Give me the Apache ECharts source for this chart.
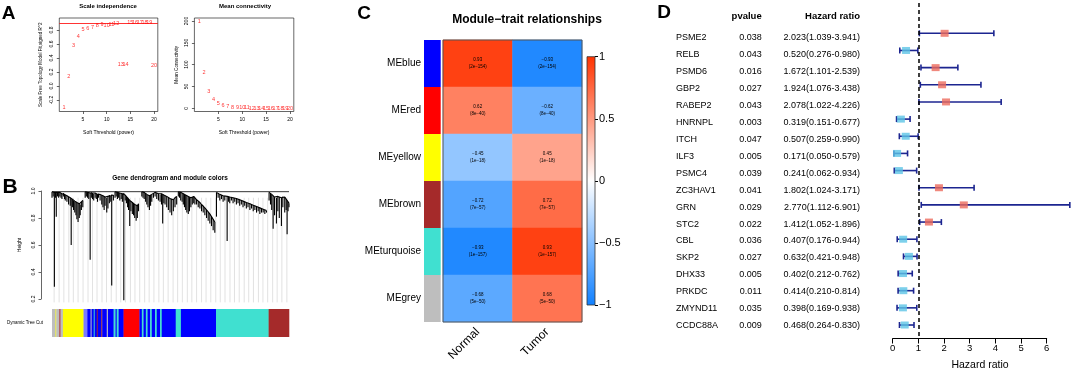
<!DOCTYPE html>
<html>
<head>
<meta charset="utf-8">
</head>
<body style="margin:0">
<div id="container" style="width:1072px;height:376px"></div>
<script src="https://cdn.jsdelivr.net/npm/echarts@6/dist/echarts.min.js"></script>
<script>
var FONT = 'Liberation Sans, Arial, sans-serif';

// ---- A: soft threshold ----
var powers = [1, 2, 3, 4, 5, 6, 7, 8, 9, 10, 11, 12, 13, 14, 15, 16, 17, 18, 19, 20];
var sftFit = [-0.31, 0.14, 0.58, 0.71, 0.80, 0.82, 0.84, 0.87, 0.88, 0.87, 0.88, 0.89, 0.31, 0.31, 0.90, 0.90, 0.91, 0.91, 0.90, 0.29];
var meanK = [200, 81, 39, 20, 11, 6, 3.5, 2, 1.2, 1, 0.8, 0.7, 0.6, 0.5, 0.4, 0.4, 0.3, 0.3, 0.3, 0.2];
var cutHeight = 0.9;
var sftTicks = [-0.2, 0, 0.2, 0.4, 0.6, 0.8];
var kTicks = [0, 50, 100, 150, 200];
var powerTicks = [5, 10, 15, 20];

// ---- B: dendrogram (x in % of leaf order, [x, mergeHeight, leafEnd]) ----
var leafClusters = [
  [[0.0,0.995,0.95],[0.5,0.99,0.96],[1.0,0.99,0.29],[1.5,0.99,0.95],[1.8,0.985,0.81],[2.3,0.99,0.96],[2.8,0.985,0.95],[3.3,0.99,0.96],[3.8,0.985,0.95],[4.2,0.98,0.94],[4.8,0.985,0.96],[5.3,0.975,0.94],[5.6,0.97,0.93],[6.3,0.965,0.92],[7.0,0.955,0.90],[7.7,0.95,0.89],[8.1,0.945,0.60],[8.6,0.94,0.88],[9.1,0.93,0.86],[9.6,0.925,0.84],[10.1,0.92,0.82],[10.5,0.915,0.79],[11.0,0.91,0.77],[11.5,0.905,0.80],[11.9,0.90,0.82],[12.4,0.92,0.86],[13.0,0.93,0.88]],
  [[14.0,0.995,0.95],[14.5,0.99,0.96],[15.0,0.99,0.95],[15.5,0.99,0.94],[16.1,0.985,0.49],[16.6,0.99,0.95],[17.1,0.985,0.94],[17.6,0.98,0.93],[18.2,0.985,0.95],[18.7,0.98,0.94],[19.2,0.975,0.92],[19.6,0.98,0.95],[20.3,0.975,0.93],[21.0,0.97,0.90],[21.5,0.965,0.88],[22.0,0.96,0.86],[22.4,0.955,0.89],[23.1,0.95,0.84],[23.6,0.96,0.87],[24.2,0.97,0.91],[24.8,0.965,0.92],[25.2,0.975,0.30],[25.9,0.97,0.93]],
  [[26.6,0.995,0.95],[27.1,0.99,0.96],[27.6,0.99,0.94],[28.1,0.985,0.95],[28.6,0.985,0.93],[29.2,0.98,0.94],[29.7,0.98,0.92],[30.3,0.985,0.19],[30.9,0.97,0.93],[31.4,0.96,0.91],[31.9,0.95,0.88],[32.3,0.94,0.86],[32.8,0.93,0.74],[33.3,0.925,0.85],[33.9,0.915,0.83],[34.4,0.905,0.82],[34.9,0.90,0.80],[35.5,0.895,0.78],[36.0,0.89,0.80],[36.5,0.905,0.85]],
  [[37.9,0.995,0.96],[38.4,0.99,0.95],[38.9,0.99,0.94],[39.5,0.985,0.92],[40.0,0.975,0.90],[40.5,0.97,0.88],[41.1,0.965,0.86],[41.6,0.97,0.89],[42.1,0.975,0.92],[42.8,0.985,0.95],[43.5,0.99,0.96],[44.2,0.985,0.94],[44.9,0.98,0.93],[45.6,0.975,0.92],[46.2,0.98,0.90],[46.7,0.975,0.76],[47.2,0.97,0.91],[47.7,0.965,0.90],[48.4,0.96,0.88],[49.1,0.955,0.86],[49.8,0.945,0.84],[50.5,0.94,0.82],[51.2,0.935,0.85],[51.9,0.95,0.88],[52.6,0.96,0.90]],
  [[53.3,0.995,0.96],[53.8,0.99,0.95],[54.3,0.99,0.93],[54.9,0.985,0.92],[55.4,0.98,0.90],[55.9,0.975,0.88],[56.4,0.97,0.86],[56.9,0.965,0.84],[57.5,0.96,0.83],[58.0,0.955,0.85],[58.6,0.95,0.88],[59.2,0.955,0.90],[59.8,0.96,0.91],[60.3,0.95,0.90],[61.0,0.935,0.90],[61.7,0.925,0.88],[62.4,0.915,0.87],[63.1,0.90,0.85],[63.8,0.89,0.84],[64.5,0.875,0.82],[65.2,0.86,0.80],[65.9,0.845,0.78],[66.6,0.83,0.76],[67.3,0.81,0.74],[68.0,0.79,0.71],[68.7,0.77,0.69]],
  [[69.4,0.99,0.81],[70.1,0.985,0.95],[70.8,0.975,0.93],[71.5,0.97,0.94],[72.2,0.965,0.92],[72.9,0.965,0.93],[73.9,0.96,0.63],[74.5,0.96,0.92],[75.0,0.955,0.91],[75.7,0.955,0.93],[76.4,0.95,0.91],[77.1,0.948,0.92],[77.8,0.945,0.90],[78.5,0.94,0.91],[79.2,0.935,0.89],[79.9,0.93,0.90],[80.6,0.925,0.88],[81.3,0.92,0.89],[82.0,0.915,0.87],[82.7,0.91,0.88],[83.5,0.905,0.86],[84.2,0.90,0.87],[84.9,0.895,0.85],[85.6,0.89,0.86],[86.3,0.885,0.84],[87.0,0.88,0.85],[87.7,0.875,0.83],[88.4,0.87,0.84],[89.1,0.865,0.84],[89.8,0.86,0.83],[90.5,0.855,0.84]],
  [[91.6,0.99,0.93],[92.2,0.985,0.90],[92.7,0.975,0.86],[93.3,0.965,0.72],[93.9,0.955,0.82],[94.7,0.95,0.76],[95.3,0.96,0.85],[95.9,0.955,0.80],[96.8,0.95,0.74],[97.4,0.96,0.88],[98.2,0.955,0.84],[98.8,0.94,0.86],[99.2,0.93,0.68],[99.6,0.92,0.85],[100,0.91,0.88]]
];
var dendroTopX = [0, 100];
var dendroTopY = [0.995, 0.995];
var hangX = [0.9, 3.0, 5.0, 7.1, 9.0, 11.0, 13.1, 15.2, 17.1, 19.0, 21.1, 23.0, 25.0, 27.1, 29.0, 31.0, 33.1, 35.0, 37.0, 39.1, 41.0, 43.0, 45.1, 47.0, 49.0, 51.1, 53.0, 55.0, 57.1, 59.0, 61.0, 63.1, 65.0, 67.0, 69.1, 71.0, 73.0, 75.1, 77.0, 79.0, 81.1, 83.0, 85.0, 87.1, 89.0, 91.0, 93.1, 95.0, 97.0, 99.1];
var hangTop = 0.95, hangBottom = 0.175;

// module colour bar: start, end, colour name
var segStart = [0, 1.5, 1.8, 3.1, 3.6, 4.6, 13.3, 14.9, 16.3, 16.7, 17.6, 18.0, 18.9, 19.3, 20.8, 21.2, 23.1, 23.6, 26.0, 26.8, 27.3, 28.1, 30.2, 36.9, 37.9, 38.6, 39.6, 40.3, 41.4, 42.1, 43.5, 44.2, 45.6, 46.3, 52.2, 54.4, 69.2, 91.4];
var segEnd = [1.5, 1.8, 3.1, 3.6, 4.6, 13.3, 14.9, 16.3, 16.7, 17.6, 18.0, 18.9, 19.3, 20.8, 21.2, 23.1, 23.6, 26.0, 26.8, 27.3, 28.1, 30.2, 36.9, 37.9, 38.6, 39.6, 40.3, 41.4, 42.1, 43.5, 44.2, 45.6, 46.3, 52.2, 54.4, 69.2, 91.4, 100];
var segColor = ['grey', 'yellow', 'grey', 'brown', 'grey', 'yellow', 'lavender', 'blue', 'grey', 'blue', 'turquoise', 'blue', 'brown', 'blue', 'brown', 'blue', 'grey', 'blue', 'turquoise', 'blue', 'turquoise', 'blue', 'red', 'blue', 'turquoise', 'blue', 'turquoise', 'blue', 'turquoise', 'blue', 'turquoise', 'blue', 'turquoise', 'blue', 'turquoise', 'blue', 'turquoise', 'brown'];
var rColors = {grey: '#bebebe', yellow: '#ffff00', brown: '#a52a2a', blue: '#0000ff', turquoise: '#40e0d0', red: '#ff0000', lavender: '#7a7aff'};

// ---- C: module-trait ----
var modules = ['MEblue', 'MEred', 'MEyellow', 'MEbrown', 'MEturquoise', 'MEgrey'];
var moduleColor = ['#0000ff', '#ff0000', '#ffff00', '#a52a2a', '#40e0d0', '#bebebe'];
var traits = ['Normal', 'Tumor'];
var corNormal = [0.93, 0.62, -0.45, -0.72, -0.93, -0.68];
var corTumor = [-0.93, -0.62, 0.45, 0.72, 0.93, 0.68];
var pModule = ['2e-154', '8e-40', '1e-18', '7e-57', '1e-157', '5e-50'];

// ---- D: forest ----
var genes = ['PSME2', 'RELB', 'PSMD6', 'GBP2', 'RABEP2', 'HNRNPL', 'ITCH', 'ILF3', 'PSMC4', 'ZC3HAV1', 'GRN', 'STC2', 'CBL', 'SKP2', 'DHX33', 'PRKDC', 'ZMYND11', 'CCDC88A'];
var pvals = ['0.038', '0.043', '0.016', '0.027', '0.043', '0.003', '0.047', '0.005', '0.039', '0.041', '0.029', '0.022', '0.036', '0.027', '0.005', '0.011', '0.035', '0.009'];
var hr = [2.023, 0.520, 1.672, 1.924, 2.078, 0.319, 0.507, 0.171, 0.241, 1.802, 2.770, 1.412, 0.407, 0.632, 0.402, 0.414, 0.398, 0.468];
var hrLow = [1.039, 0.276, 1.101, 1.076, 1.022, 0.151, 0.259, 0.050, 0.062, 1.024, 1.112, 1.052, 0.176, 0.421, 0.212, 0.210, 0.169, 0.264];
var hrHigh = [3.941, 0.980, 2.539, 3.438, 4.226, 0.677, 0.990, 0.579, 0.934, 3.171, 6.901, 1.896, 0.944, 0.948, 0.762, 0.814, 0.938, 0.830];

var chart = echarts.init(document.getElementById('container'), null, {renderer: 'canvas'});

function minus(v) { return v < 0 ? '\u2212' + Math.abs(v) : String(v); }

function txt(x, y, s, size, weight, align) {
  return {
    type: 'text', x: x, y: y, silent: true,
    style: {
      text: s, fontSize: size, fontWeight: weight || 'normal', fontFamily: FONT, fill: '#000',
      align: align || 'center', textAlign: align || 'center', verticalAlign: 'middle', textVerticalAlign: 'middle'
    }
  };
}

var tiny = {color: '#000', fontSize: 5, fontFamily: FONT};
var thinTick = {length: 2.5, lineStyle: {color: '#000', width: 0.6}};

var grids = [
  {left: 59.3, right: 914.2, top: 18, bottom: 264.5, show: true, borderColor: '#000', borderWidth: 0.6},
  {left: 194.4, right: 778.2, top: 18, bottom: 264.5, show: true, borderColor: '#000', borderWidth: 0.6},
  {left: 52, right: 783, top: 191, bottom: 77},
  {left: 52, right: 783, top: 309, bottom: 39},
  {left: 424, right: 631.3, top: 40, bottom: 54},
  {left: 443, right: 490, top: 40, bottom: 54, show: true, borderColor: '#555', borderWidth: 1, z: 5},
  {left: 587, right: 477, top: 56.7, bottom: 71},
  {left: 676, right: 212, top: 29.2, bottom: 41.8},
  {left: 892.7, right: 25.3, top: 3, bottom: 37.5}
];

var hidden = function (g, mn, mx) {
  return {gridIndex: g, type: 'value', min: mn, max: mx, show: false};
};

var xAxes = [
  {gridIndex: 0, type: 'value', min: 0, max: 20.8, axisLine: {show: false, onZero: false}, splitLine: {show: false},
    axisTick: Object.assign({customValues: powerTicks}, thinTick),
    axisLabel: Object.assign({customValues: powerTicks, margin: 6}, tiny),
    name: 'Soft Threshold (power)', nameLocation: 'middle', nameGap: 19, nameTextStyle: tiny},
  {gridIndex: 1, type: 'value', min: 0, max: 20.8, axisLine: {show: false, onZero: false}, splitLine: {show: false},
    axisTick: Object.assign({customValues: powerTicks}, thinTick),
    axisLabel: Object.assign({customValues: powerTicks, margin: 6}, tiny),
    name: 'Soft Threshold (power)', nameLocation: 'middle', nameGap: 19, nameTextStyle: tiny},
  hidden(2, 0, 100),
  hidden(3, 0, 100),
  hidden(4, 0, 1),
  {gridIndex: 5, type: 'category', data: traits, axisLine: {show: false}, axisTick: {show: false},
    axisLabel: {rotate: 45, fontSize: 12, margin: 8, color: '#000', fontFamily: FONT}},
  hidden(6, 0, 1),
  hidden(7, 0, 1),
  {gridIndex: 8, type: 'value', min: 0, max: 6, interval: 1, splitLine: {show: false},
    axisLine: {onZero: false, lineStyle: {color: '#000', width: 1}},
    axisTick: {length: 5, lineStyle: {color: '#000', width: 1}},
    axisLabel: {fontSize: 9.5, margin: 5, color: '#000', fontFamily: FONT}}
];

var yAxes = [
  {gridIndex: 0, type: 'value', min: -0.364, max: 0.971, axisLine: {show: false, onZero: false}, splitLine: {show: false},
    axisTick: Object.assign({customValues: sftTicks}, thinTick),
    axisLabel: Object.assign({customValues: sftTicks, rotate: 90, margin: 5, formatter: function (v) { return v.toFixed(1); }}, tiny),
    name: 'Scale Free Topology Model Fit,signed R^2', nameLocation: 'middle', nameGap: 16,
    nameTextStyle: {color: '#000', fontSize: 4.5, fontFamily: FONT}},
  {gridIndex: 1, type: 'value', min: -7.3, max: 206.9, axisLine: {show: false, onZero: false}, splitLine: {show: false},
    axisTick: Object.assign({customValues: kTicks}, thinTick),
    axisLabel: Object.assign({customValues: kTicks, rotate: 90, margin: 5}, tiny),
    name: 'Mean Connectivity', nameLocation: 'middle', nameGap: 15,
    nameTextStyle: {color: '#000', fontSize: 4.6, fontFamily: FONT}},
  {gridIndex: 2, type: 'value', min: 0.2, max: 1.0, interval: 0.2, offset: 11, splitLine: {show: false},
    axisLine: {show: true, onZero: false, lineStyle: {color: '#000', width: 0.6}}, axisTick: thinTick,
    axisLabel: Object.assign({rotate: 90, margin: 5, formatter: function (v) { return v.toFixed(1); }}, tiny),
    name: 'Height', nameLocation: 'middle', nameGap: 19, nameTextStyle: tiny},
  {gridIndex: 3, type: 'category', data: ['Dynamic Tree Cut'], axisLine: {show: false}, axisTick: {show: false},
    axisLabel: {color: '#000', fontSize: 4.5, margin: 9, fontFamily: FONT}},
  {gridIndex: 4, type: 'category', data: modules, inverse: true, axisLine: {show: false}, axisTick: {show: false},
    axisLabel: {color: '#000', fontSize: 10, margin: 3, fontFamily: FONT}},
  {gridIndex: 5, type: 'category', data: modules, inverse: true, show: false},
  {gridIndex: 6, type: 'value', min: -1, max: 1, interval: 0.5, position: 'right', splitLine: {show: false},
    axisLine: {show: false, onZero: false}, axisTick: {length: 3, lineStyle: {color: '#000', width: 1}},
    axisLabel: {color: '#000', fontSize: 11, margin: 4, fontFamily: FONT, formatter: minus}},
  {gridIndex: 7, type: 'category', data: genes, inverse: true, position: 'left', axisLine: {show: false}, axisTick: {show: false},
    axisLabel: {align: 'left', margin: 0, color: '#000', fontSize: 9, fontFamily: FONT}},
  {gridIndex: 7, type: 'category', data: genes, inverse: true, position: 'right', offset: -98.3, axisLine: {show: false}, axisTick: {show: false},
    axisLabel: {align: 'right', margin: 0, color: '#000', fontSize: 9, fontFamily: FONT,
      formatter: function (v, i) { return pvals[i]; }}},
  {gridIndex: 7, type: 'category', data: genes, inverse: true, position: 'right', offset: 0, axisLine: {show: false}, axisTick: {show: false},
    axisLabel: {align: 'right', margin: 0, color: '#000', fontSize: 9, fontFamily: FONT,
      formatter: function (v, i) { return hr[i].toFixed(3) + '(' + hrLow[i].toFixed(3) + '-' + hrHigh[i].toFixed(3) + ')'; }}},
  {gridIndex: 8, type: 'value', min: -1.766, max: 17.786, inverse: true, show: false}
];

var series = [];

function powerLabels(xi, vals, extra) {
  return Object.assign({
    type: 'scatter', xAxisIndex: xi, yAxisIndex: xi, symbolSize: 1,
    itemStyle: {color: 'rgba(0,0,0,0)'},
    data: powers.map(function (p, i) { return [p, vals[i]]; }),
    label: {show: true, position: 'inside', color: '#ff0000', fontSize: 5.5, fontFamily: FONT,
      formatter: function (p) { return p.data[0]; }}
  }, extra || {});
}

series.push(powerLabels(0, sftFit, {
  markLine: {silent: true, symbol: ['none', 'none'], label: {show: false},
    lineStyle: {color: '#ff0000', width: 0.8, type: 'solid'}, data: [{yAxis: cutHeight}]}
}));
series.push(powerLabels(1, meanK));

// hanging leaf lines (grey)
series.push({
  type: 'custom', xAxisIndex: 2, yAxisIndex: 2, clip: false, z: 1,
  data: hangX.map(function (x) { return [x, hangTop, hangBottom]; }),
  renderItem: function (params, api) {
    var a = api.coord([api.value(0), api.value(1)]);
    var b = api.coord([api.value(0), api.value(2)]);
    return {type: 'line', shape: {x1: a[0], y1: a[1], x2: b[0], y2: b[1]}, style: {stroke: '#cfcfcf', lineWidth: 0.6}};
  }
});
// dendrogram branches
var allLeaves = [].concat.apply([], leafClusters);
series.push({
  type: 'custom', xAxisIndex: 2, yAxisIndex: 2, clip: false, z: 3,
  data: allLeaves,
  renderItem: function (params, api) {
    var a = api.coord([api.value(0), api.value(1)]);
    var b = api.coord([api.value(0), api.value(2)]);
    return {type: 'line', shape: {x1: a[0], y1: a[1], x2: b[0], y2: b[1]}, style: {stroke: '#000', lineWidth: 1.1}};
  }
});
leafClusters.forEach(function (cl) {
  series.push({
    type: 'line', xAxisIndex: 2, yAxisIndex: 2, symbol: 'none', z: 3,
    lineStyle: {color: '#000', width: 1.1},
    data: cl.map(function (l) { return [l[0], l[1]]; })
  });
});
series.push({
  type: 'line', xAxisIndex: 2, yAxisIndex: 2, symbol: 'none', z: 3,
  lineStyle: {color: '#000', width: 0.8},
  data: dendroTopX.map(function (x, i) { return [x, dendroTopY[i]]; })
});

// module colours under the tree
series.push({
  type: 'custom', xAxisIndex: 3, yAxisIndex: 3,
  data: segStart.map(function (s, i) { return [s, segEnd[i], 0]; }),
  renderItem: function (params, api) {
    var a = api.coord([api.value(0), 0]);
    var b = api.coord([api.value(1), 0]);
    var h = api.size([0, 1])[1];
    return {type: 'rect', shape: {x: a[0], y: a[1] - h / 2, width: b[0] - a[0] + 0.3, height: h},
      style: {fill: rColors[segColor[params.dataIndex]]}};
  }
});

// module colour strip of panel C
series.push({
  type: 'bar', xAxisIndex: 4, yAxisIndex: 4, barWidth: '100%', barCategoryGap: '0%',
  data: modules.map(function (m, i) { return {value: 1, itemStyle: {color: moduleColor[i]}}; })
});

var heatData = [];
modules.forEach(function (m, i) {
  heatData.push([0, i, corNormal[i]]);
  heatData.push([1, i, corTumor[i]]);
});
var heatIndex = series.length;
series.push({
  type: 'heatmap', xAxisIndex: 5, yAxisIndex: 5, data: heatData,
  label: {show: true, color: '#000', fontSize: 4.5, lineHeight: 7, fontFamily: FONT,
    formatter: function (p) { return minus(p.data[2]) + '\n(' + pModule[p.data[1]].replace('-', '\u2212') + ')'; }},
  emphasis: {disabled: true}
});

// colour key
series.push({
  type: 'custom', xAxisIndex: 6, yAxisIndex: 6, data: [[0, -1, 1, 1]],
  renderItem: function (params, api) {
    var a = api.coord([api.value(0), api.value(3)]);
    var b = api.coord([api.value(2), api.value(1)]);
    return {type: 'rect', shape: {x: a[0], y: a[1], width: b[0] - a[0], height: b[1] - a[1]},
      style: {stroke: '#333', lineWidth: 0.8,
        fill: new echarts.graphic.LinearGradient(0, 1, 0, 0, [
          {offset: 0, color: '#1080ff'}, {offset: 0.5, color: '#ffffff'}, {offset: 1, color: '#ff3300'}])}};
  }
});

// forest: CI bars
series.push({
  type: 'custom', xAxisIndex: 8, yAxisIndex: 10, clip: false, z: 3,
  data: genes.map(function (g, i) { return [hrLow[i], hrHigh[i], i]; }),
  renderItem: function (params, api) {
    var l = api.coord([api.value(0), api.value(2)]);
    var r = api.coord([api.value(1), api.value(2)]);
    var st = {stroke: '#1c2590', lineWidth: 1.6};
    return {type: 'group', children: [
      {type: 'line', shape: {x1: l[0], y1: l[1], x2: r[0], y2: r[1]}, style: st},
      {type: 'line', shape: {x1: l[0], y1: l[1] - 3, x2: l[0], y2: l[1] + 3}, style: st},
      {type: 'line', shape: {x1: r[0], y1: r[1] - 3, x2: r[0], y2: r[1] + 3}, style: st}
    ]};
  }
});
series.push({
  type: 'scatter', xAxisIndex: 8, yAxisIndex: 10, symbol: 'rect', symbolSize: [8, 7], z: 4,
  data: hr.map(function (h, i) { return {value: [h, i], itemStyle: {color: h > 1 ? '#ec6a5c' : '#5cc4e6'}}; }),
  markLine: {silent: true, symbol: ['none', 'none'], label: {show: false},
    lineStyle: {color: '#000', width: 1.5, type: [4, 3]}, data: [{xAxis: 1}]}
});

var option = {
  animation: false,
  textStyle: {fontFamily: FONT},
  grid: grids,
  xAxis: xAxes,
  yAxis: yAxes,
  visualMap: {type: 'continuous', show: false, min: -1, max: 1, dimension: 2, seriesIndex: heatIndex,
    inRange: {color: ['#1080ff', '#ffffff', '#ff3300']}},
  series: series,
  graphic: [
    txt(8.5, 13.3, 'A', 19, 'bold'),
    txt(10, 187.5, 'B', 21, 'bold'),
    txt(364, 13.3, 'C', 19, 'bold'),
    txt(664, 13, 'D', 19, 'bold'),
    txt(108, 6, 'Scale independence', 6, 'bold'),
    txt(245, 6, 'Mean connectivity', 6, 'bold'),
    txt(170, 178, 'Gene dendrogram and module colors', 6.5, 'bold'),
    txt(527, 19.3, 'Module\u2212trait relationships', 12, 'bold'),
    txt(761.7, 16.7, 'pvalue', 9.5, 'bold', 'right'),
    txt(860, 16.7, 'Hazard ratio', 9.5, 'bold', 'right'),
    txt(980, 365, 'Hazard ratio', 10.5)
  ]
};

chart.setOption(option);
window.addEventListener('resize', chart.resize);
</script>
</body>
</html>
